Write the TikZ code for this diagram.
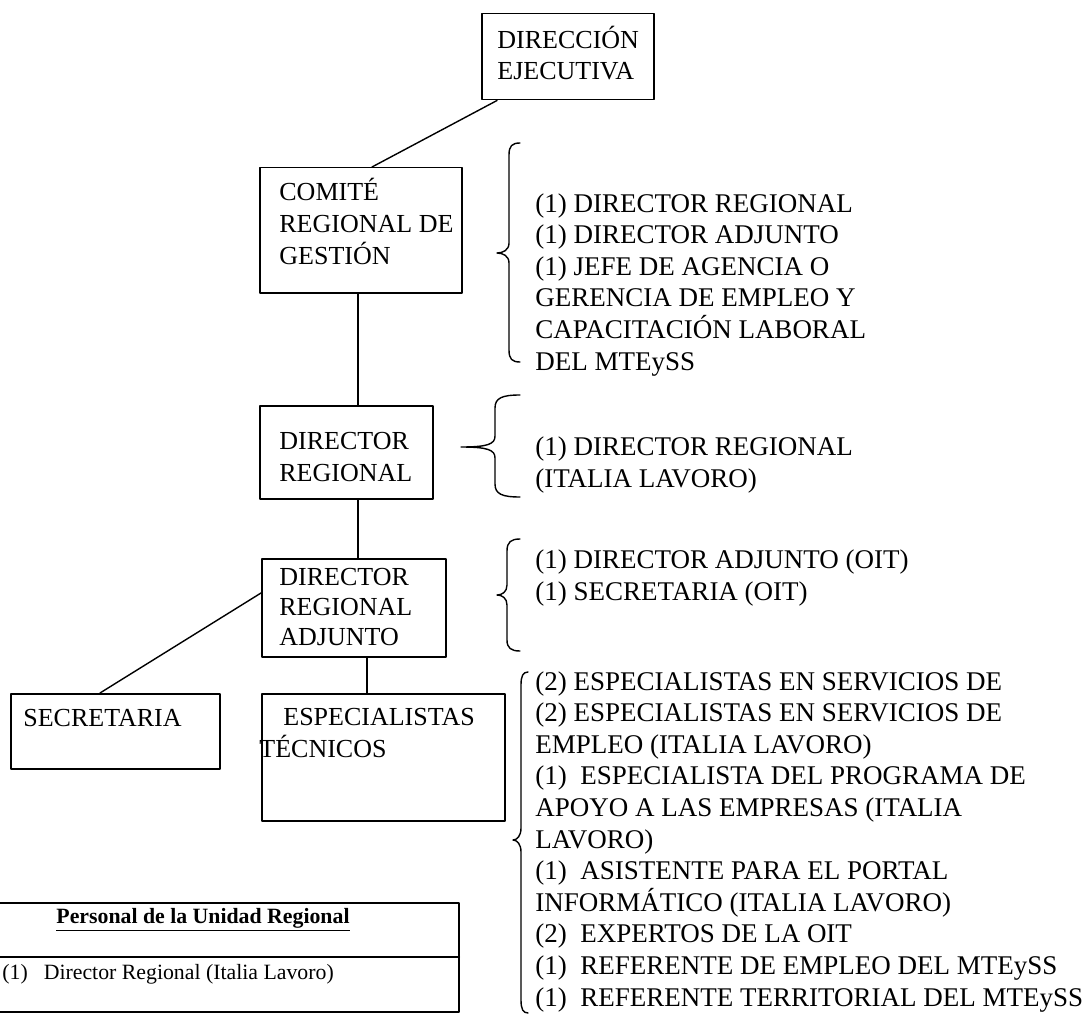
\documentclass[tikz,border=0pt]{standalone}
\usepackage{fontspec}
\setmainfont{Liberation Serif}

\begin{document}
\begin{tikzpicture}[line cap=round,line join=round,x=0.5pt,y=-0.5pt,
  caja/.style={draw,line width=0.75pt,inner sep=0pt,anchor=north west},
  texto/.style={anchor=base west,inner sep=0pt,align=left,font=\fontsize{13}{15.8}\selectfont},
  lista/.style={texto,font=\fontsize{13.5}{15.8}\selectfont},
  tabla/.style={inner sep=0pt,font=\fontsize{10.9}{13}\selectfont},
  llave/.style={line width=0.7pt}]
\useasboundingbox (0,0) rectangle (1085,1016);
% cajas
\node[caja,minimum width=86pt,minimum height=43pt] (dej) at (481,13) {};
\node[caja,minimum width=101pt,minimum height=62.5pt] (comite) at (259,167) {};
\node[caja,minimum width=86.5pt,minimum height=46.5pt] (dr) at (259,405) {};
\node[caja,minimum width=92pt,minimum height=49pt] (dra) at (261,558) {};
\node[caja,minimum width=104.5pt,minimum height=37.5pt] (sec) at (10,693) {};
\node[caja,minimum width=121.5pt,minimum height=63.5pt] (esp) at (261,693) {};
% textos de las cajas (anclados en la ultima linea)
\node[texto] (tdej) at (497,80) {DIRECCIÓN\\EJECUTIVA};
\node[texto] (tcomite) at (279,264) {COMITÉ\\REGIONAL DE\\GESTIÓN};
\node[texto] (tdr) at (279,481) {DIRECTOR\\REGIONAL};
\node[texto,font=\fontsize{13}{15}\selectfont] (tdra) at (279,645) {DIRECTOR\\REGIONAL\\ADJUNTO};
\node[texto] (tsec) at (23,726) {SECRETARIA};
\node[texto] (tesp) at (259,757) {\hspace*{12pt}ESPECIALISTAS\\TÉCNICOS};
% lineas
\draw[line width=0.7pt] ([xshift=8pt]dej.south west) -- ([xshift=56.5pt]comite.north west);
\draw[line width=0.7pt] ([xshift=49.5pt]comite.south west) -- ([xshift=49.5pt]comite.south west |- dr.north);
\draw[line width=0.7pt] ([xshift=49.5pt]dr.south west) -- ([xshift=49.5pt]dr.south west |- dra.north);
\draw[line width=0.7pt] ([yshift=-17.5pt]dra.north west) -- ([xshift=45pt]sec.north west);
\draw[line width=0.7pt] ([xshift=53pt]dra.south west) -- ([xshift=53pt]dra.south west |- esp.north);
% llaves
\draw[llave] (520,143) .. controls (512,143) and (509,146) .. (509,155) -- (509,243)
  .. controls (509,250) and (503,253) .. (497,253) .. controls (503,253) and (509,256) .. (509,263)
  -- (509,350) .. controls (509,359) and (512,362) .. (520,362);
\draw[llave] (520,395) .. controls (502,395) and (495,398) .. (495,408) -- (495,436)
  .. controls (495,444) and (488,447) .. (461,447) .. controls (488,447) and (495,450) .. (495,458)
  -- (495,484) .. controls (495,494) and (502,497) .. (520,497);
\draw[llave] (520,539) .. controls (511,539) and (507,542) .. (507,551) -- (507,585)
  .. controls (507,592) and (502,595) .. (497,595) .. controls (502,595) and (507,598) .. (507,605)
  -- (507,640) .. controls (507,648) and (511,651) .. (520,651);
\draw[llave] (528,672) .. controls (523,672) and (521,676) .. (521,685) -- (521,828)
  .. controls (521,836) and (517,840) .. (513,840) .. controls (517,840) and (521,844) .. (521,852)
  -- (521,1000) .. controls (521,1009) and (523,1013) .. (528,1013);
% listas (ancladas en la ultima linea)
\node[lista] (lcomite) at (535,370) {(1) DIRECTOR REGIONAL\\(1) DIRECTOR ADJUNTO\\(1) JEFE DE AGENCIA O\\GERENCIA DE EMPLEO Y\\CAPACITACIÓN LABORAL\\DEL MTEySS};
\node[lista] (ldr) at (535,487) {(1) DIRECTOR REGIONAL\\(ITALIA LAVORO)};
\node[lista] (ldra) at (535,600) {(1) DIRECTOR ADJUNTO (OIT)\\(1) SECRETARIA (OIT)};
\node[lista] (lesp) at (535,1006) {(2) ESPECIALISTAS EN SERVICIOS DE\\(2) ESPECIALISTAS EN SERVICIOS DE\\EMPLEO (ITALIA LAVORO)\\(1)\ \ ESPECIALISTA DEL PROGRAMA DE\\APOYO A LAS EMPRESAS (ITALIA\\LAVORO)\\(1)\ \ ASISTENTE PARA EL PORTAL\\INFORMÁTICO (ITALIA LAVORO)\\(2)\ \ EXPERTOS DE LA OIT\\(1)\ \ REFERENTE DE EMPLEO DEL MTEySS\\(1)\ \ REFERENTE TERRITORIAL DEL MTEySS};
% tabla
\draw[line width=1pt] (0,903) -- (459,903) -- (459,1012) -- (0,1012);
\draw[line width=1pt] (0,957) -- (459,957);
\node[tabla,anchor=base] (ttabla) at (203,923) {\underline{\textbf{Personal de la Unidad Regional}}};
\node[tabla,anchor=base west] (ftabla) at (2,979) {(1)\hspace{8pt}Director Regional (Italia Lavoro)};
\end{tikzpicture}
\end{document}
